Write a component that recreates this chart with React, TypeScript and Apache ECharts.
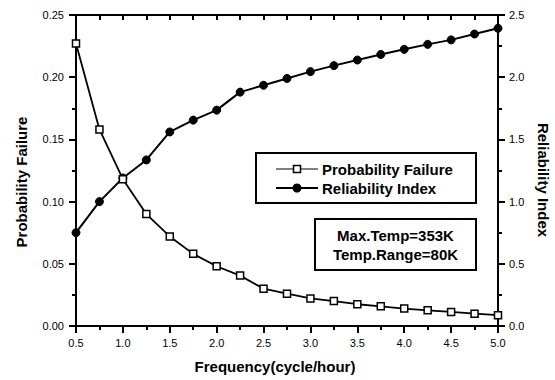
import React, { useEffect, useRef } from "react";
import * as echarts from "echarts";

const freq = [0.5, 0.75, 1.0, 1.25, 1.5, 1.75, 2.0, 2.25, 2.5, 2.75, 3.0, 3.25, 3.5, 3.75, 4.0, 4.25, 4.5, 4.75, 5.0];
const probFailure = [0.227, 0.158, 0.118, 0.090, 0.072, 0.058, 0.048, 0.0405, 0.030, 0.026, 0.0222, 0.020, 0.0175, 0.0158, 0.014, 0.0126, 0.0113, 0.0099, 0.0087];
const reliability = [0.75, 1.0, 1.19, 1.335, 1.56, 1.655, 1.735, 1.88, 1.935, 1.99, 2.045, 2.093, 2.138, 2.183, 2.224, 2.264, 2.3, 2.347, 2.393];

const seriesNames = ["Probability Failure", "Reliability Index"];
const xTitle = "Frequency(cycle/hour)";
const yLeftTitle = "Probability Failure";
const yRightTitle = "Reliability Index";
const noteLines = ["Max.Temp=353K", "Temp.Range=80K"];

const FONT = "'Liberation Sans', Arial, Helvetica, sans-serif";

export default function App() {
  const ref = useRef<HTMLDivElement>(null);
  useEffect(() => {
    if (!ref.current) return;
    const chart = echarts.init(ref.current, undefined, { renderer: "svg" });
    const axisLine = { show: true, onZero: false, lineStyle: { color: "#000", width: 2 } };
    const label = (digits: number, margin: number) => ({
      show: true,
      color: "#000",
      fontFamily: FONT,
      fontSize: 11,
      margin,
      formatter: (v: number) => v.toFixed(digits),
    });
    const tick = (inside: boolean, length: number) => ({
      show: true,
      inside,
      length,
      lineStyle: { color: "#000", width: 2 },
    });
    const minor = { show: true, splitNumber: 2, length: 4, lineStyle: { color: "#000", width: 2 } };
    const boldText = (text: string, x: number, y: number, align: string, extra: any = {}) => ({
      type: "text",
      x,
      y,
      z: 5,
      ...extra,
      style: {
        text,
        fill: "#000",
        font: `bold 15px ${FONT}`,
        textAlign: align,
        textVerticalAlign: "middle",
      },
    });
    const option: any = {
      animation: false,
      backgroundColor: "#fff",
      grid: { left: 76, right: 57, top: 15, bottom: 54, containLabel: false },
      xAxis: [
        {
          type: "value",
          position: "bottom",
          min: 0.5,
          max: 5,
          interval: 0.5,
          axisLine,
          axisTick: tick(false, 7),
          minorTick: minor,
          axisLabel: label(1, 11),
          splitLine: { show: false },
          minorSplitLine: { show: false },
        },
        {
          type: "value",
          position: "top",
          min: 0.5,
          max: 5,
          interval: 0.25,
          axisLine,
          axisTick: tick(true, 5),
          axisLabel: { show: false },
          splitLine: { show: false },
        },
      ],
      yAxis: [
        {
          type: "value",
          position: "left",
          min: 0,
          max: 0.25,
          interval: 0.05,
          axisLine,
          axisTick: tick(false, 7),
          minorTick: minor,
          axisLabel: label(2, 12),
          splitLine: { show: false },
          minorSplitLine: { show: false },
        },
        {
          type: "value",
          position: "right",
          min: 0,
          max: 2.5,
          interval: 0.5,
          axisLine,
          axisTick: tick(false, 7),
          minorTick: minor,
          axisLabel: label(1, 11),
          splitLine: { show: false },
          minorSplitLine: { show: false },
        },
      ],
      legend: {
        show: true,
        orient: "vertical",
        left: 276,
        top: 162,
        padding: 0,
        itemGap: 4,
        itemWidth: 42,
        itemHeight: 8,
        itemStyle: { opacity: 0 },
        lineStyle: { opacity: 0 },
        textStyle: { color: "#000", fontFamily: FONT, fontSize: 15, fontWeight: "bold", padding: [0, 0, 0, -2] },
        data: seriesNames,
      },
      series: [
        {
          name: seriesNames[0],
          type: "line",
          xAxisIndex: 0,
          yAxisIndex: 0,
          data: freq.map((f, i) => [f, probFailure[i]]),
          symbol: "rect",
          symbolSize: 7,
          itemStyle: { color: "#fff", borderColor: "#000", borderWidth: 1.5 },
          lineStyle: { color: "#000", width: 1.8 },
          z: 3,
        },
        {
          name: seriesNames[1],
          type: "line",
          xAxisIndex: 0,
          yAxisIndex: 1,
          data: freq.map((f, i) => [f, reliability[i]]),
          symbol: "circle",
          symbolSize: 8,
          itemStyle: { color: "#000", borderColor: "#000", borderWidth: 1 },
          lineStyle: { color: "#000", width: 2 },
          z: 2,
        },
      ],
      graphic: [
        {
          type: "rect",
          shape: { x: 256, y: 153, width: 220, height: 50 },
          style: { fill: "#fff", stroke: "#000", lineWidth: 2 },
          z: 1,
        },
        {
          type: "line",
          z: 5,
          shape: { x1: 276, y1: 169, x2: 318, y2: 169 },
          style: { stroke: "#000", lineWidth: 1.2 },
        },
        {
          type: "rect",
          z: 6,
          shape: { x: 293.5, y: 165.5, width: 7, height: 7 },
          style: { fill: "#fff", stroke: "#000", lineWidth: 1.5 },
        },
        {
          type: "line",
          z: 5,
          shape: { x1: 276, y1: 188, x2: 318, y2: 188 },
          style: { stroke: "#000", lineWidth: 2 },
        },
        {
          type: "circle",
          z: 6,
          shape: { cx: 297, cy: 188, r: 4.5 },
          style: { fill: "#000" },
        },
        {
          type: "rect",
          shape: { x: 315, y: 219, width: 161, height: 51 },
          style: { fill: "#fff", stroke: "#000", lineWidth: 2 },
          z: 1,
        },
        boldText(noteLines[0], 395.5, 235, "center"),
        boldText(noteLines[1], 395.5, 254, "center"),
        boldText(xTitle, 275, 366, "center"),
        boldText(yLeftTitle, 21, 182, "center", { rotation: Math.PI / 2 }),
        boldText(yRightTitle, 543, 180, "center", { rotation: -Math.PI / 2 }),
      ],
    };
    chart.setOption(option);
    return () => chart.dispose();
  }, []);
  return <div ref={ref} style={{ width: 555, height: 380, position: "absolute", left: 0, top: 0 }} />;
}
